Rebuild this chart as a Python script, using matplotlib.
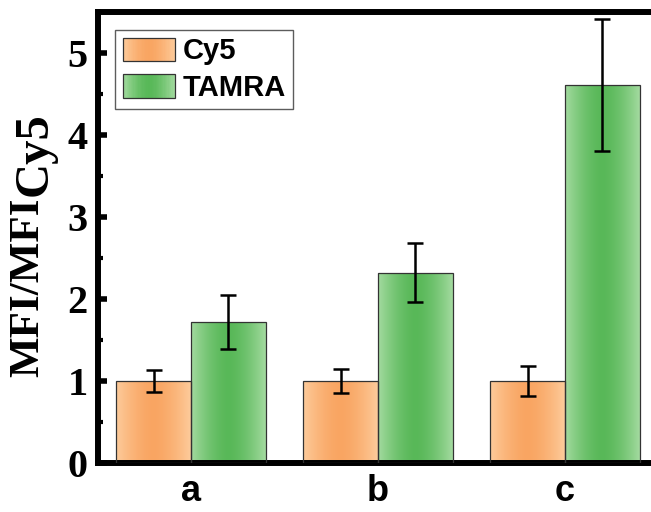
import numpy as np
import matplotlib
matplotlib.use("Agg")
import matplotlib.pyplot as plt
from matplotlib.patches import Rectangle
from matplotlib.legend_handler import HandlerBase
from matplotlib.ticker import MultipleLocator

groups = ["a", "b", "c"]
cy5 = [1.0, 1.0, 1.0]
cy5_err = [0.13, 0.15, 0.18]
tamra = [1.72, 2.32, 4.61]
tamra_err = [0.33, 0.36, 0.81]

orange_edge, orange_mid = "#fdcb9b", "#f9a562"
green_edge, green_mid = "#a3da9f", "#58b858"


def gradient_colors(edge, mid, n=64):
    e = np.array(matplotlib.colors.to_rgb(edge))
    m = np.array(matplotlib.colors.to_rgb(mid))
    t = np.abs(np.linspace(-1, 1, n)) ** 1.6
    return m[None, :] + (e - m)[None, :] * t[:, None]


class GradientHandler(HandlerBase):
    def __init__(self, edge, mid):
        super().__init__()
        self.cols = gradient_colors(edge, mid, 40)

    def create_artists(self, legend, orig_handle, xdescent, ydescent,
                       width, height, fontsize, trans):
        arts = []
        n = len(self.cols)
        w = width / n
        for i, c in enumerate(self.cols):
            arts.append(Rectangle((-xdescent + i * w, -ydescent), w * 1.6, height,
                                  facecolor=c, edgecolor="none", lw=0,
                                  transform=trans))
        arts[-1].set_width(w)
        arts.append(Rectangle((-xdescent, -ydescent), width, height, fill=False,
                              edgecolor="#333333", lw=0.9, transform=trans))
        return arts


def gradient_bars(ax, x, heights, width, edge, mid):
    bars = ax.bar(x, heights, width, facecolor="none", edgecolor="#333333",
                  lw=0.9, zorder=3)
    img = gradient_colors(edge, mid)[None, :, :]
    for b in bars:
        x0, w, h = b.get_x(), b.get_width(), b.get_height()
        im = ax.imshow(img, extent=(x0, x0 + w, 0, h), aspect="auto",
                       interpolation="bilinear", zorder=2)
        im.set_clip_path(b)
    return bars


fig = plt.figure(figsize=(6.51, 5.12), dpi=100)
ax = fig.add_axes([97.5 / 651, 49 / 512, 561 / 651, 451 / 512])

x = np.arange(1, len(groups) + 1)
w = 0.4
b1 = gradient_bars(ax, x - w / 2, cy5, w, orange_edge, orange_mid)
b2 = gradient_bars(ax, x + w / 2, tamra, w, green_edge, green_mid)
ax.errorbar(x - w / 2, cy5, yerr=cy5_err, fmt="none", ecolor="black",
            elinewidth=1.8, capsize=5.5, capthick=1.8, zorder=4)
ax.errorbar(x + w / 2, tamra, yerr=tamra_err, fmt="none", ecolor="black",
            elinewidth=1.8, capsize=5.5, capthick=1.8, zorder=4)

ax.set_xlim(0.5, 3.5)
ax.set_ylim(0, 5.5)
ax.set_xticks(x)
ax.set_xticklabels(groups, fontfamily="Liberation Sans", fontweight="bold",
                   fontsize=26)
ax.tick_params(axis="x", length=0, pad=8)
ax.yaxis.set_major_locator(MultipleLocator(1))
ax.yaxis.set_minor_locator(MultipleLocator(0.5))
ax.tick_params(axis="y", which="major", direction="in", length=6.5, width=4,
               pad=7)
ax.tick_params(axis="y", which="minor", direction="in", length=3.5, width=3)
for lab in ax.get_yticklabels():
    lab.set_fontfamily("Liberation Serif")
    lab.set_fontweight("bold")
    lab.set_fontsize(29)
for s in ax.spines.values():
    s.set_linewidth(4.3)

# y label: "MFI/MFI" with full-size shifted subscript "Cy5"
fig.text(28 / 651, 135 / 512, "MFI/MFI", rotation=90, ha="center", va="bottom",
         fontfamily="Liberation Serif", fontweight="bold", fontsize=31)
fig.text(35 / 651, 316 / 512, "Cy5", rotation=90, ha="center", va="bottom",
         fontfamily="Liberation Serif", fontweight="bold", fontsize=35)

leg = ax.legend([b1, b2], ["Cy5", "TAMRA"],
                handler_map={b1: GradientHandler(orange_edge, orange_mid),
                             b2: GradientHandler(green_edge, green_mid)},
                loc="upper left", bbox_to_anchor=(0.032, 0.96),
                prop={"family": "Liberation Sans", "weight": "bold", "size": 21},
                frameon=True, fancybox=False, edgecolor="#333333",
                handlelength=1.8, handleheight=0.85, handletextpad=0.25,
                borderpad=0.25, labelspacing=0.3, borderaxespad=0)
leg.get_frame().set_linewidth(1.0)
leg.set_zorder(5)

fig.savefig("out.png", dpi=100)
